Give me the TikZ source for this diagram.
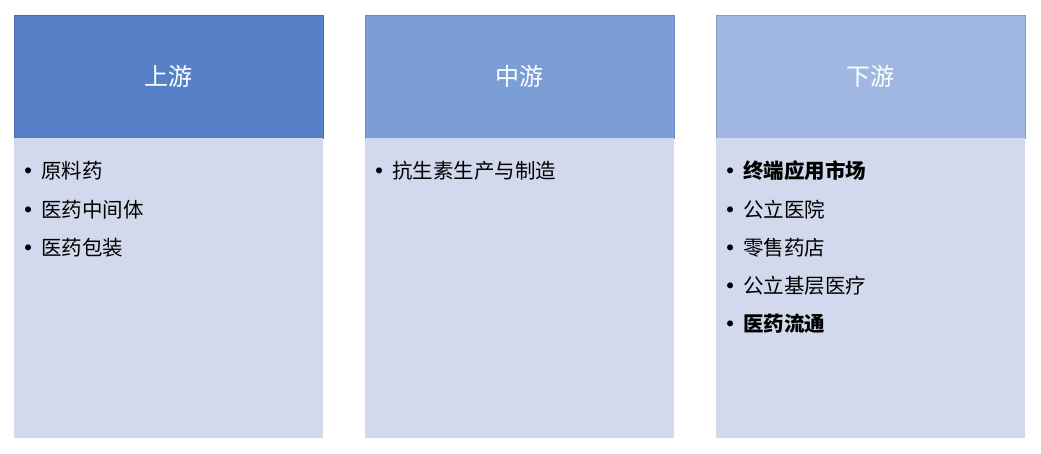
\documentclass[tikz,border=0pt]{standalone}
\usepackage{fontspec}
\setmainfont{Noto Sans CJK SC}
\newfontfamily\bulfont{DejaVu Sans}
\usetikzlibrary{positioning}
\definecolor{hdA}{HTML}{5681C9}
\definecolor{hdB}{HTML}{7B9ED6}
\definecolor{hdC}{HTML}{A0B8E1}
\definecolor{bodyfill}{HTML}{D3D9EC}
\newcommand{\bul}[1]{\llap{{\bulfont •}\hspace{7pt}}#1}

\begin{document}
\begin{tikzpicture}[x=1pt, y=-1pt]
\tikzset{kopf/.style={draw=#1!85!black, line width=0.6pt, fill=#1, minimum width=309pt, minimum height=123pt, inner sep=0pt, text=white, font=\fontsize{24}{28}\selectfont}}
\tikzset{koerper/.style={fill=bodyfill, minimum width=309pt, minimum height=299pt, inner sep=0pt, anchor=north}}
\tikzset{punkt/.style={anchor=west, inner sep=0pt, font=\fontsize{20.5}{24}\selectfont}}
\useasboundingbox (0,0) rectangle (1041,454);
% Spaltenkoepfe
\node[kopf=hdA] (K1) at (168.5,76.5) {上游};
\node[kopf=hdB] (K2) at (519.5,76.5) {中游};
\node[kopf=hdC] (K3) at (870.5,76.5) {下游};
% Spaltenkoerper
\node[koerper] (B1) at (K1.south) {};
\node[koerper] (B2) at (K2.south) {};
\node[koerper] (B3) at (K3.south) {};
% Eintraege
\node[punkt] (P1) at (41,171) {\bul{原料药}};
\node[punkt] (P2) at (41,209.5) {\bul{医药中间体}};
\node[punkt] (P3) at (41,247.5) {\bul{医药包装}};
\node[punkt] (M1) at (392,171) {\bul{抗生素生产与制造}};
\node[punkt] (D1) at (743,171) {\bul{\textbf{终端应用市场}}};
\node[punkt] (D2) at (743,209.5) {\bul{公立医院}};
\node[punkt] (D3) at (743,247.5) {\bul{零售药店}};
\node[punkt] (D4) at (743,285.5) {\bul{公立基层医疗}};
\node[punkt] (D5) at (743,324) {\bul{\textbf{医药流通}}};
\end{tikzpicture}
\end{document}
